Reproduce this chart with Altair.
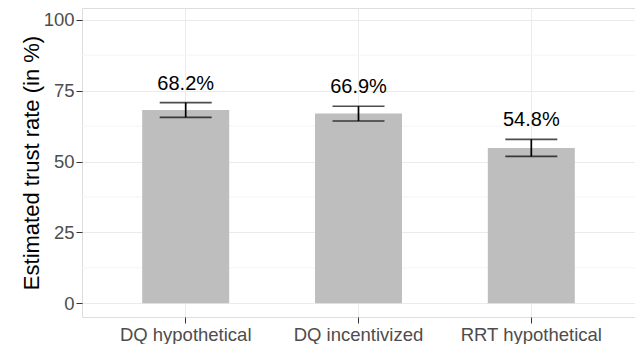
import altair as alt
import pandas as pd

categories = ["DQ hypothetical", "DQ incentivized", "RRT hypothetical"]
means = [68.2, 66.9, 54.8]
lower = [65.6, 64.3, 51.8]
upper = [70.8, 69.5, 57.8]
labels = ["68.2%", "66.9%", "54.8%"]
major_breaks = [0, 25, 50, 75, 100]
minor_breaks = [12.5, 37.5, 62.5, 87.5]

df = pd.DataFrame({"cat": categories, "mean": means, "lo": lower, "hi": upper, "lab": labels})
minor_df = pd.DataFrame({"v": minor_breaks})

FONT = "Liberation Sans"
ydom = [-4.84, 104.15]
W, H = 553, 309

xenc = alt.X("cat:N", sort=categories,
             scale=alt.Scale(paddingInner=0, paddingOuter=0.1),
             axis=alt.Axis(title=None, labelAngle=0, labelFontSize=18.5, labelColor="#4D4D4D",
                           labelFont=FONT, tickSize=6, tickColor="#333333", labelPadding=2,
                           domain=False, grid=True, gridColor="#EBEBEB", gridWidth=1,
                           bandPosition=0.5))
yscale = alt.Scale(domain=ydom, nice=False, zero=False)

minor = alt.Chart(minor_df).mark_rule(color="#F5F5F5", strokeWidth=1).encode(
    y=alt.Y("v:Q", scale=yscale)
)

bars = alt.Chart(df).mark_bar(color="#BEBEBE", size=87).encode(
    x=xenc,
    y=alt.Y("mean:Q", scale=yscale,
            axis=alt.Axis(values=major_breaks, title="Estimated trust rate (in %)",
                          titleFontSize=22, titleFont=FONT, titleFontWeight="normal",
                          titleColor="black", titleX=-51, titleY=H / 2, titleAngle=-90,
                          titleAlign="center", titleBaseline="middle",
                          labelFontSize=18.5, labelColor="#4D4D4D", labelFont=FONT,
                          tickSize=6, tickColor="#333333", labelPadding=2, domain=False,
                          grid=True, gridColor="#EBEBEB", gridWidth=1)),
    y2=alt.Y2("zero:Q"),
).transform_calculate(zero="0")

rule = alt.Chart(df).mark_rule(color="black", strokeWidth=1.7).encode(
    x=alt.X("cat:N", sort=categories), y=alt.Y("lo:Q", scale=yscale), y2="hi:Q"
)
cap_lo = alt.Chart(df).mark_tick(color="black", orient="horizontal", size=52, thickness=1.7).encode(
    x=alt.X("cat:N", sort=categories), y=alt.Y("lo:Q", scale=yscale)
)
cap_hi = alt.Chart(df).mark_tick(color="black", orient="horizontal", size=52, thickness=1.7).encode(
    x=alt.X("cat:N", sort=categories), y=alt.Y("hi:Q", scale=yscale)
)
text = alt.Chart(df).mark_text(font=FONT, fontSize=20, color="black", baseline="middle",
                               dy=-19).encode(
    x=alt.X("cat:N", sort=categories), y=alt.Y("hi:Q", scale=yscale), text="lab:N"
)

chart = alt.layer(minor, bars, rule, cap_lo, cap_hi, text).properties(
    width=W, height=H,
    autosize=alt.AutoSizeParams(type="none"),
    padding={"left": 74, "top": 0, "right": 0, "bottom": 27},
).configure_view(stroke="#666666", strokeWidth=1.1).configure(background="white")

chart.save("out.html", embed_options={"renderer": "svg", "actions": False})
